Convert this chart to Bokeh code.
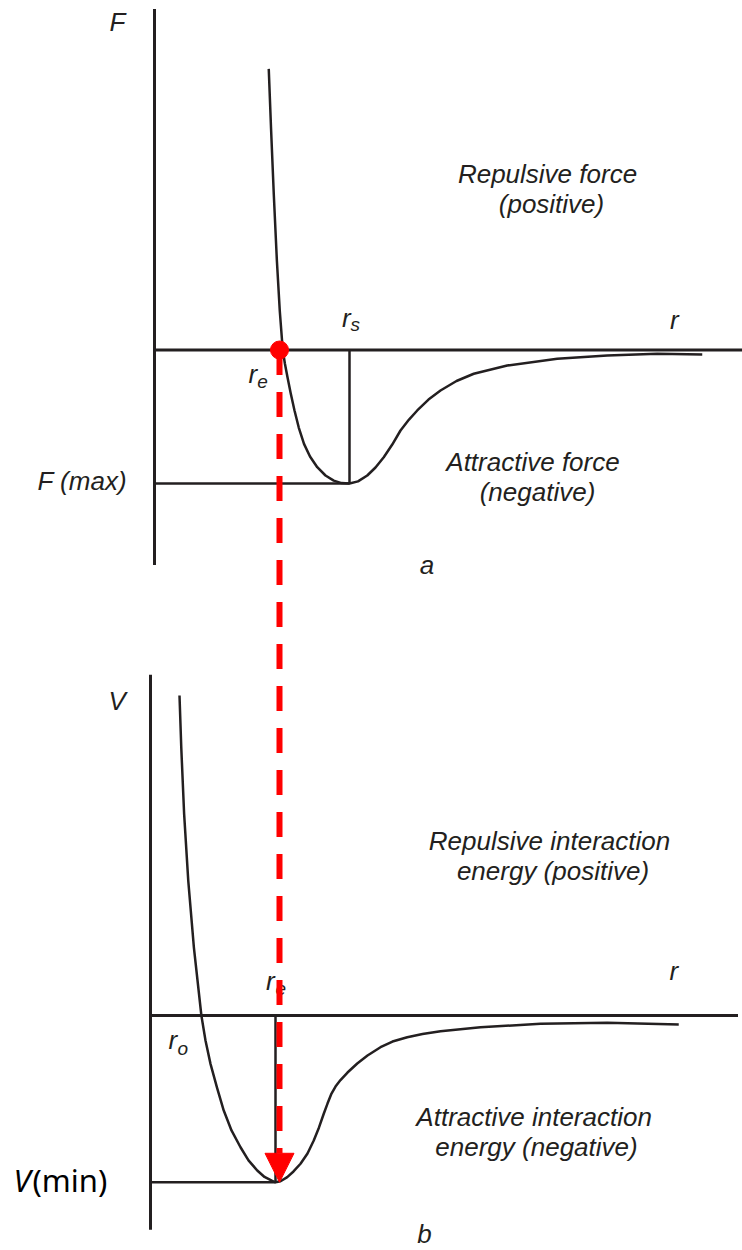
from bokeh.plotting import figure
from bokeh.models import Range1d, Arrow, NormalHead
from bokeh.core.properties import value
from bokeh.embed import file_html
from bokeh.resources import INLINE

# ---------------- data (schematic units) ----------------
# Panel a: force F(r); r_e = 1, F(max) = -1
F_R = [0.914, 0.932, 0.954, 0.979, 1.002, 1.026, 1.043, 1.064, 1.090, 1.120, 1.154,
       1.196, 1.244, 1.302, 1.368, 1.434, 1.496, 1.560, 1.628, 1.702, 1.768, 1.834,
       1.902, 1.968, 2.036, 2.102, 2.192, 2.288, 2.416, 2.554, 2.822, 3.222, 3.622,
       4.022, 4.382]
F_VAL = [2.106, 1.667, 1.172, 0.670, 0.296, 0.000, -0.101, -0.204, -0.326, -0.453, -0.581,
         -0.703, -0.798, -0.878, -0.940, -0.978, -0.997, -1.000, -0.984, -0.940, -0.880, -0.803,
         -0.708, -0.603, -0.521, -0.453, -0.371, -0.303, -0.232, -0.178, -0.116, -0.066, -0.041,
         -0.028, -0.034]

# Panel b: potential energy V(r); r_e = 1, V(min) = -1
V_R = [0.232, 0.246, 0.269, 0.302, 0.347, 0.407, 0.440, 0.480, 0.532, 0.586, 0.648,
       0.720, 0.784, 0.854, 0.912, 0.974, 1.000, 1.040, 1.094, 1.144, 1.200, 1.256,
       1.306, 1.348, 1.386, 1.416, 1.448, 1.480, 1.520, 1.576, 1.654, 1.736, 1.840,
       1.936, 2.054, 2.176, 2.320, 2.640, 3.120, 3.654, 4.226]
V_VAL = [1.918, 1.609, 1.209, 0.809, 0.409, 0.000, -0.150, -0.290, -0.432, -0.570, -0.689,
         -0.790, -0.869, -0.929, -0.968, -0.992, -1.000, -0.994, -0.969, -0.935, -0.889, -0.827,
         -0.749, -0.671, -0.589, -0.528, -0.468, -0.426, -0.387, -0.342, -0.288, -0.240, -0.190,
         -0.156, -0.130, -0.111, -0.094, -0.070, -0.050, -0.044, -0.054]

R_E = 1.0
R_S = 1.56
F_MAX = -1.0
V_MIN = -1.0
AXIS_R_END = 4.70
F_AXIS = [2.555, -1.610]
V_AXIS = [2.043, -1.285]

# label texts and positions (panel units, baseline)
A_TEXT = ["F", "Repulsive force", "(positive)", "Attractive force", "(negative)", "F (max)", "a"]
A_X = [-0.36, 3.144, 3.176, 3.028, 3.064, -0.578, 2.18]
A_Y = [2.389, 1.247, 1.022, -0.910, -1.135, -1.052, -1.682]
A_ALIGN = ["left", "center", "center", "center", "center", "center", "center"]

B_TEXT = ["V", "Repulsive interaction", "energy (positive)", "Attractive interaction",
          "energy (negative)", "b"]
B_X = [-0.336, 3.192, 3.22, 3.069, 3.088, 2.192]
B_Y = [1.829, 0.989, 0.809, -0.665, -0.845, -1.367]
B_ALIGN = ["left", "center", "center", "center", "center", "center"]

# r labels: main letter + subscript
A_R_MAIN = ["r", "r", "r"]
A_R_MX = [1.50, 4.124, 0.752]
A_R_MY = [0.169, 0.154, -0.251]
A_R_SUB = ["s", "", "e"]
A_R_SX = [1.568, 4.2, 0.822]
A_R_SY = [0.139, 0.154, -0.288]

B_R_MAIN = ["r", "r", "r"]
B_R_MX = [4.152, 0.924, 0.144]
B_R_MY = [0.210, 0.150, -0.204]
B_R_SUB = ["", "e", "o"]
B_R_SX = [4.2, 1.0, 0.216]
B_R_SY = [0.210, 0.120, -0.240]

VMIN_X = -1.096
VMIN_Y = -1.049

INK = "#231f20"
RED = "#ff0000"
FONT = value("Liberation Sans")

# ---------------- figure ----------------
W, H = 742, 1250
TOP_X = (-1.232, 4.704)
TOP_Y = (-6.7453, 2.618)
BOT_X = (-1.2, 4.736)
BOT_Y = (-1.4089, 6.0851)
TOP_PPU = H / (TOP_Y[1] - TOP_Y[0])
BOT_PPU = H / (BOT_Y[1] - BOT_Y[0])
BASE_FIX = 0.35  # em, raise text so its baseline sits where intended

p = figure(width=W, height=H, x_range=Range1d(*TOP_X), y_range=Range1d(*TOP_Y),
           x_axis_type=None, y_axis_type=None, output_backend="svg",
           toolbar_location=None, min_border=0)
p.extra_x_ranges = {"rb": Range1d(*BOT_X)}
p.extra_y_ranges = {"vb": Range1d(*BOT_Y)}
p.grid.visible = False
p.outline_line_color = None
p.background_fill_color = "white"
p.border_fill_color = "white"

kb = dict(x_range_name="rb", y_range_name="vb")

def label(x, y, t, size, bottom=False, align="left", italic=True, font=FONT, color=INK):
    ppu = BOT_PPU if bottom else TOP_PPU
    yy = y + BASE_FIX * size / ppu
    extra = kb if bottom else {}
    p.text([x], [yy], text=[t], text_font=font,
           text_font_style="italic" if italic else "normal",
           text_font_size=f"{size}px", text_color=color, text_align=align,
           text_baseline="alphabetic", **extra)

# panel a axes and guide lines
p.line([0, 0], F_AXIS, line_color=INK, line_width=3)
p.line([0, AXIS_R_END], [0, 0], line_color=INK, line_width=3)
p.line([R_S, R_S], [0, F_MAX], line_color=INK, line_width=2.5)
p.line([0, R_S], [F_MAX, F_MAX], line_color=INK, line_width=2.5)
p.line(F_R, F_VAL, line_color=INK, line_width=2.5, line_join="round")

# panel b axes and guide lines
p.line([0, 0], V_AXIS, line_color=INK, line_width=3, **kb)
p.line([0, AXIS_R_END], [0, 0], line_color=INK, line_width=3, **kb)
p.line([R_E, R_E], [0, V_MIN], line_color=INK, line_width=2.5, **kb)
p.line([0, R_E], [V_MIN, V_MIN], line_color=INK, line_width=2.5, **kb)
p.line(V_R, V_VAL, line_color=INK, line_width=2.5, line_join="round", **kb)

# texts panel a
for t, x, y, al in zip(A_TEXT, A_X, A_Y, A_ALIGN):
    label(x, y, t, 26, align=al)
for t, x, y in zip(A_R_MAIN, A_R_MX, A_R_MY):
    label(x, y, t, 26)
for t, x, y in zip(A_R_SUB, A_R_SX, A_R_SY):
    if t:
        label(x, y, t, 19)

# texts panel b
for t, x, y, al in zip(B_TEXT, B_X, B_Y, B_ALIGN):
    label(x, y, t, 26, bottom=True, align=al)
for t, x, y in zip(B_R_MAIN, B_R_MX, B_R_MY):
    label(x, y, t, 26, bottom=True)
for t, x, y in zip(B_R_SUB, B_R_SX, B_R_SY):
    if t:
        label(x, y, t, 19, bottom=True)

# V(min) label: italic V + upright (min)
label(VMIN_X, VMIN_Y, "V", 31, bottom=True, font=value("Noto Sans"), color="black")
label(VMIN_X + 0.152, VMIN_Y, "(min)", 31, bottom=True, italic=False,
      font=value("Noto Sans"), color="black")

# red dashed arrow from r_e (F = 0) down to V(min)
def bottom_to_top_y(v):
    frac = (v - BOT_Y[0]) / (BOT_Y[1] - BOT_Y[0])
    return TOP_Y[0] + frac * (TOP_Y[1] - TOP_Y[0])

arrow = Arrow(end=NormalHead(size=29, fill_color=RED, line_color=RED, line_width=1),
              x_start=R_E, y_start=0, x_end=R_E, y_end=bottom_to_top_y(V_MIN),
              line_color=RED, line_width=6, line_dash="25 17")
p.add_layout(arrow)
p.scatter([R_E], [0], size=18, fill_color=RED, line_color=RED)

open("out.html", "w").write(file_html(p, INLINE))
